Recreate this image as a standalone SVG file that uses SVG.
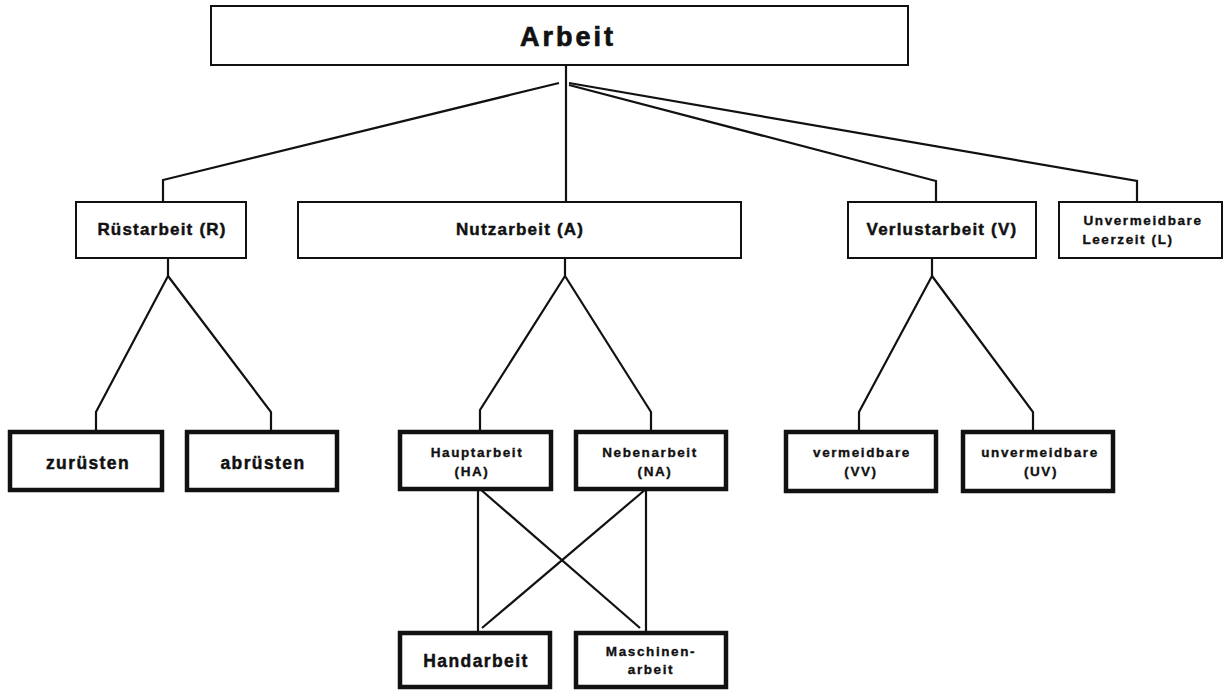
<svg xmlns="http://www.w3.org/2000/svg" width="1224" height="690" viewBox="0 0 1224 690">
  <style>
    .bg { fill: #ffffff; }
    .box { fill: #ffffff; stroke: #111111; stroke-width: 2; }
    .box-heavy { fill: #ffffff; stroke: #111111; stroke-width: 4.5; }
    .link { fill: none; stroke: #111111; stroke-width: 2.2; stroke-linejoin: miter; }
    text { font-family: "Liberation Sans", Arial, sans-serif; font-weight: bold; fill: #111111; stroke: #111111; stroke-width: 0.45; text-anchor: middle; }
    .t-top { font-size: 27px; letter-spacing: 3px; stroke-width: 0.7; }
    .t-mid { font-size: 17px; letter-spacing: 1.2px; }
    .t-big { font-size: 17.5px; letter-spacing: 1.4px; }
    .t-small { font-size: 13.5px; letter-spacing: 1.6px; stroke-width: 0.35; }
  </style>

  <rect class="bg" x="0" y="0" width="1224" height="690"/>

  <!-- connectors -->
  <g id="connectors">
    <!-- Arbeit to second level -->
    <polyline class="link" points="566,65 566,202"/>
    <polyline class="link" points="559,83 163,180 163,202"/>
    <polyline class="link" points="569,85 936,181 936,202"/>
    <polyline class="link" points="569,83 1137,181 1137,202"/>
    <!-- Rüstarbeit branches -->
    <polyline class="link" points="168,258 168,276 96,412 96,431"/>
    <polyline class="link" points="168,276 271,412 271,431"/>
    <!-- Nutzarbeit branches -->
    <polyline class="link" points="565,258 565,276 480,410 480,431"/>
    <polyline class="link" points="565,276 651,412 651,431"/>
    <!-- Verlustarbeit branches -->
    <polyline class="link" points="932,258 932,276 859,412 859,431"/>
    <polyline class="link" points="932,276 1033,412 1033,431"/>
    <!-- Haupt-/Nebenarbeit to Hand-/Maschinenarbeit -->
    <polyline class="link" points="478,489 478,631"/>
    <polyline class="link" points="646,489 646,631"/>
    <polyline class="link" points="480,489 640,628"/>
    <polyline class="link" points="646,489 482,628"/>
  </g>

  <g id="arbeit">
    <rect class="box" x="211" y="6" width="697" height="59"/>
    <text class="t-top" x="568" y="46">Arbeit</text>
  </g>

  <g id="ruestarbeit">
    <rect class="box" x="76" y="202" width="170" height="56"/>
    <text class="t-mid" x="162" y="235">Rüstarbeit (R)</text>
  </g>

  <g id="nutzarbeit">
    <rect class="box" x="298" y="202" width="443" height="56"/>
    <text class="t-mid" x="520" y="235">Nutzarbeit  (A)</text>
  </g>

  <g id="verlustarbeit">
    <rect class="box" x="848" y="202" width="188" height="56"/>
    <text class="t-mid" x="942" y="235">Verlustarbeit  (V)</text>
  </g>

  <g id="leerzeit">
    <rect class="box" x="1059" y="202" width="163" height="56"/>
    <text class="t-small" x="1143" y="225">Unvermeidbare</text>
    <text class="t-small" x="1128" y="244">Leerzeit  (L)</text>
  </g>

  <g id="zuruesten">
    <rect class="box-heavy" x="10" y="432" width="152" height="58"/>
    <text class="t-big" x="88" y="469">zurüsten</text>
  </g>

  <g id="abruesten">
    <rect class="box-heavy" x="187" y="432" width="150" height="58"/>
    <text class="t-big" x="263" y="469">abrüsten</text>
  </g>

  <g id="hauptarbeit">
    <rect class="box-heavy" x="400" y="432" width="151" height="57"/>
    <text class="t-small" x="477" y="457">Hauptarbeit</text>
    <text class="t-small" x="472" y="476">(HA)</text>
  </g>

  <g id="nebenarbeit">
    <rect class="box-heavy" x="576" y="432" width="150" height="57"/>
    <text class="t-small" x="650" y="457">Nebenarbeit</text>
    <text class="t-small" x="655" y="476">(NA)</text>
  </g>

  <g id="vermeidbare">
    <rect class="box-heavy" x="786" y="432" width="150" height="59"/>
    <text class="t-small" x="862" y="457">vermeidbare</text>
    <text class="t-small" x="861" y="476">(VV)</text>
  </g>

  <g id="unvermeidbare">
    <rect class="box-heavy" x="963" y="432" width="150" height="59"/>
    <text class="t-small" x="1040" y="457">unvermeidbare</text>
    <text class="t-small" x="1041" y="476">(UV)</text>
  </g>

  <g id="handarbeit">
    <rect class="box-heavy" x="400" y="633" width="150" height="54"/>
    <text class="t-big" x="476" y="667">Handarbeit</text>
  </g>

  <g id="maschinenarbeit">
    <rect class="box-heavy" x="576" y="633" width="150" height="54"/>
    <text class="t-small" x="651" y="656">Maschinen-</text>
    <text class="t-small" x="651" y="674">arbeit</text>
  </g>
</svg>
